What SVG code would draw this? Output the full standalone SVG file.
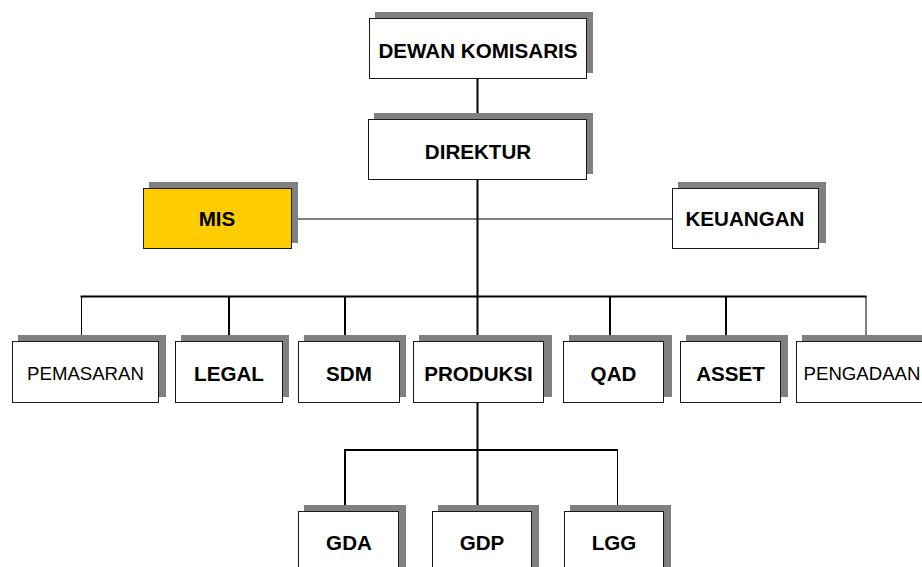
<svg xmlns="http://www.w3.org/2000/svg" width="922" height="567" viewBox="0 0 922 567">
<style>
.sh{fill:#808080}
.bx{fill:#fff;stroke:#1a1a1a;stroke-width:1}
.mis{fill:#FFCC00}
.b{font-family:"Liberation Sans",Arial,sans-serif;font-weight:bold;font-size:20.6px;fill:#000;text-anchor:middle}
.r{font-family:"Liberation Sans",Arial,sans-serif;font-size:18.6px;fill:#000;text-anchor:middle}
.c{fill:none;stroke:#000;stroke-width:2}
.t{fill:none;stroke:#000;stroke-width:1}
</style>
<rect width="922" height="567" fill="#fff"/>
<g id="connectors">
<line class="c" x1="477.5" y1="79" x2="477.5" y2="119"/>
<line class="c" x1="477.5" y1="180" x2="477.5" y2="297"/>
<line class="t" x1="292" y1="219" x2="672" y2="219" stroke="#222"/>
<line class="c" x1="80.5" y1="296.5" x2="866.5" y2="296.5"/>
<line class="t" x1="81.5" y1="296" x2="81.5" y2="342"/>
<line class="c" x1="229" y1="296" x2="229" y2="342"/>
<line class="c" x1="345" y1="296" x2="345" y2="342"/>
<line class="c" x1="477.5" y1="296" x2="477.5" y2="342"/>
<line class="c" x1="610" y1="296" x2="610" y2="342"/>
<line class="c" x1="726" y1="296" x2="726" y2="342"/>
<line class="t" x1="866" y1="296" x2="866" y2="342"/>
<line class="c" x1="477.5" y1="403" x2="477.5" y2="512"/>
<line class="c" x1="344" y1="450" x2="618" y2="450"/>
<line class="c" x1="345" y1="450" x2="345" y2="512"/>
<line class="t" x1="617.5" y1="450" x2="617.5" y2="512"/>
</g>
<g id="dewan">
<rect class="sh" x="375" y="12" width="218" height="61"/>
<rect class="bx" x="369.5" y="18.5" width="217" height="60"/>
<text class="b" x="478" y="58">DEWAN KOMISARIS</text>
</g>
<g id="direktur">
<rect class="sh" x="374" y="113" width="219" height="61"/>
<rect class="bx" x="368.5" y="119.5" width="218" height="60"/>
<text class="b" x="478" y="159">DIREKTUR</text>
</g>
<g id="mis">
<rect class="sh" x="149" y="182" width="149" height="61"/>
<rect class="bx mis" x="143.5" y="188.5" width="148" height="60"/>
<text class="b" x="217" y="226">MIS</text>
</g>
<g id="keuangan">
<rect class="sh" x="678" y="182" width="148" height="61"/>
<rect class="bx" x="672.5" y="188.5" width="146" height="60"/>
<text class="b" x="745" y="226">KEUANGAN</text>
</g>
<g id="pemasaran">
<rect class="sh" x="18" y="335" width="148" height="62"/>
<rect class="bx" x="12.5" y="341.5" width="146" height="61"/>
<text class="r" x="85.5" y="380">PEMASARAN</text>
</g>
<g id="legal">
<rect class="sh" x="181" y="335" width="108" height="62"/>
<rect class="bx" x="175.5" y="341.5" width="107" height="61"/>
<text class="b" x="229" y="381">LEGAL</text>
</g>
<g id="sdm">
<rect class="sh" x="304" y="335" width="102" height="62"/>
<rect class="bx" x="298.5" y="341.5" width="101" height="61"/>
<text class="b" x="349" y="381">SDM</text>
</g>
<g id="produksi">
<rect class="sh" x="419" y="335" width="133" height="62"/>
<rect class="bx" x="413.5" y="341.5" width="130" height="61"/>
<text class="b" x="478.5" y="381">PRODUKSI</text>
</g>
<g id="qad">
<rect class="sh" x="569" y="335" width="103" height="62"/>
<rect class="bx" x="563.5" y="341.5" width="100" height="61"/>
<text class="b" x="613.5" y="381">QAD</text>
</g>
<g id="asset">
<rect class="sh" x="686" y="335" width="102" height="62"/>
<rect class="bx" x="680.5" y="341.5" width="100" height="61"/>
<text class="b" x="730.5" y="381">ASSET</text>
</g>
<g id="pengadaan">
<rect class="sh" x="802" y="335" width="131" height="62"/>
<rect class="bx" x="796.5" y="341.5" width="131" height="61"/>
<text class="r" x="862" y="380">PENGADAAN</text>
</g>
<g id="gda">
<rect class="sh" x="304" y="505" width="102" height="70"/>
<rect class="bx" x="298.5" y="511.5" width="100" height="70"/>
<text class="b" x="349" y="550">GDA</text>
</g>
<g id="gdp">
<rect class="sh" x="438" y="505" width="101" height="70"/>
<rect class="bx" x="432.5" y="511.5" width="99" height="70"/>
<text class="b" x="482" y="550">GDP</text>
</g>
<g id="lgg">
<rect class="sh" x="570" y="505" width="101" height="70"/>
<rect class="bx" x="564.5" y="511.5" width="99" height="70"/>
<text class="b" x="614" y="550">LGG</text>
</g>
</svg>
